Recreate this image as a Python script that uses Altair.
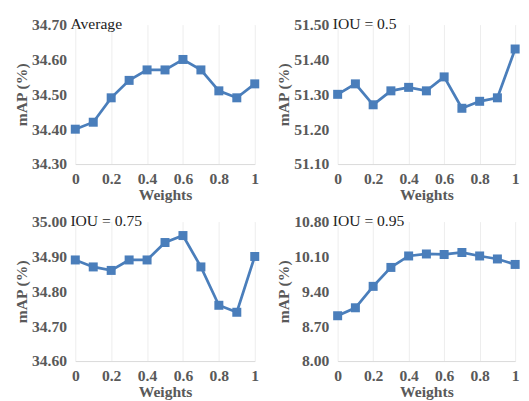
import altair as alt
import pandas as pd

weights = [0, 0.1, 0.2, 0.3, 0.4, 0.5, 0.6, 0.7, 0.8, 0.9, 1.0]

avg_vals = [34.40, 34.42, 34.49, 34.54, 34.57, 34.57, 34.60, 34.57, 34.51, 34.49, 34.53]
iou50_vals = [51.30, 51.33, 51.27, 51.31, 51.32, 51.31, 51.35, 51.26, 51.28, 51.29, 51.43]
iou75_vals = [34.89, 34.87, 34.86, 34.89, 34.89, 34.94, 34.96, 34.87, 34.76, 34.74, 34.90]
iou95_vals = [8.91, 9.07, 9.50, 9.88, 10.11, 10.15, 10.14, 10.18, 10.11, 10.05, 9.94]

avg_ticks = [34.30, 34.40, 34.50, 34.60, 34.70]
iou50_ticks = [51.10, 51.20, 51.30, 51.40, 51.50]
iou75_ticks = [34.60, 34.70, 34.80, 34.90, 35.00]
iou95_ticks = [8.00, 8.70, 9.40, 10.10, 10.80]

x_ticks = [0, 0.2, 0.4, 0.6, 0.8, 1.0]

titles = ["Average", "IOU = 0.5", "IOU = 0.75", "IOU = 0.95"]

COLOR = "#4a7ebb"
SERIF = "Liberation Serif"
GREY = "#595959"


def panel(vals, ticks, title, w):
    df = pd.DataFrame({"w": weights, "v": vals})
    x = alt.X(
        "w:Q",
        scale=alt.Scale(domain=[0, 1], nice=False, zero=False),
        axis=alt.Axis(
            values=x_ticks,
            format="~g",
            title="Weights",
            grid=True,
            gridColor="#ececec",
            domainColor="#d9d9d9",
            ticks=False,
            labelPadding=7,
            titlePadding=0,
            labelOverlap=False,
            labelFlush=False,
            labelFont=SERIF,
            labelFontSize=16,
            labelFontWeight="bold",
            labelColor=GREY,
            titleFont=SERIF,
            titleFontSize=16,
            titleFontWeight="bold",
            titleColor=GREY,
        ),
    )
    y = alt.Y(
        "v:Q",
        scale=alt.Scale(domain=[ticks[0], ticks[-1]], nice=False, zero=False),
        axis=alt.Axis(
            values=ticks,
            format=".2f",
            title="mAP (%)",
            grid=False,
            domain=False,
            ticks=False,
            labelPadding=9,
            titlePadding=2,
            labelOverlap=False,
            labelFlush=False,
            labelFont=SERIF,
            labelFontSize=16,
            labelFontWeight="bold",
            labelColor=GREY,
            titleFont=SERIF,
            titleFontSize=16,
            titleFontWeight="bold",
            titleColor=GREY,
        ),
    )
    base = alt.Chart(df).encode(x=x, y=y)
    line = base.mark_line(color=COLOR, strokeWidth=2.8, clip=False)
    pts = base.mark_square(color=COLOR, size=85, opacity=1, clip=False)
    txt = alt.Chart(pd.DataFrame({"t": [title]})).mark_text(
        align="left", baseline="middle", font=SERIF, fontSize=16, color="#222222"
    ).encode(x=alt.value(-5), y=alt.value(0), text="t:N")
    return alt.layer(line, pts, txt).properties(width=w, height=143)


top = alt.hconcat(
    panel(avg_vals, avg_ticks, titles[0], 184),
    panel(iou50_vals, iou50_ticks, titles[1], 182),
    spacing=16,
)
bottom = alt.hconcat(
    panel(iou75_vals, iou75_ticks, titles[2], 184),
    panel(iou95_vals, iou95_ticks, titles[3], 182),
    spacing=16,
)

chart = alt.vconcat(top, bottom, spacing=12).properties(
    padding={"left": 6, "top": 4, "right": 0, "bottom": 0}
).configure_view(stroke=None)

chart.save("out.html", embed_options={"renderer": "svg", "actions": False})
